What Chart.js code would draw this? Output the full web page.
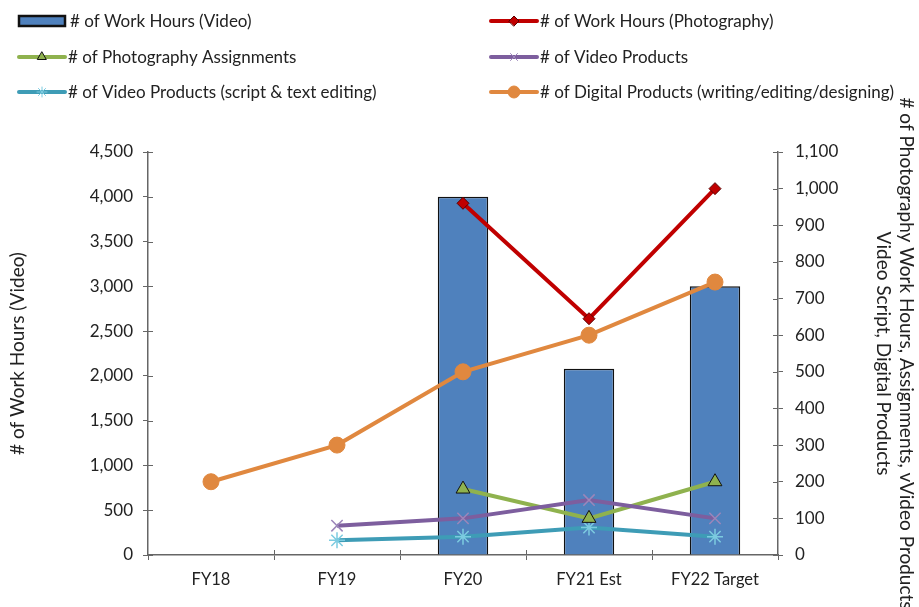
<!DOCTYPE html>
<html>
<head>
<meta charset="utf-8">
<script src="https://cdn.jsdelivr.net/npm/chart.js@4/dist/chart.umd.min.js"></script>
<style>
html,body{margin:0;padding:0;background:#fff;}
#wrap{width:919px;height:607px;position:relative;}
</style>
</head>
<body>
<div id="wrap"><canvas id="c" width="919" height="607"></canvas></div>
<script>
const categories = ['FY18', 'FY19', 'FY20', 'FY21 Est', 'FY22 Target'];
const videoHours = [null, null, 4000, 2080, 3000];
const photoHours = [null, null, 960, 645, 1000];
const photoAssignments = [null, null, 180, 100, 200];
const videoProducts = [null, 80, 100, 150, 100];
const videoScript = [null, 40, 50, 75, 50];
const digitalProducts = [200, 300, 500, 600, 745];
const leftAxis = {min: 0, max: 4500, step: 500};
const rightAxis = {min: 0, max: 1100, step: 100};
const leftTitle = '# of Work Hours (Video)';
const rightTitle = ['# of Photography Work Hours, Assignments, vVideo Products', 'Video Script, Digital Products'];

const FONT = 'Lato, "Open Sans", sans-serif';
const TXT = '#222';
const AX = '#666';

const seriesStyle = [
  {label: '# of Work Hours (Video)', type: 'bar'},
  {label: '# of Work Hours (Photography)', color: '#C00000', ps: 'rectRot', pr: 6, pf: '#C00000', pb: '#5a0000'},
  {label: '# of Photography Assignments', color: '#8FB24E', ps: 'triangle', pr: 8, pf: '#8FB24E', pb: '#111'},
  {label: '# of Video Products', color: '#7D5E9E', ps: 'crossRot', pr: 8, pf: '#9C86BA', pb: '#9C86BA'},
  {label: '# of Video Products (script & text editing)', color: '#3E9CB6', ps: 'star', pr: 8, pf: '#7CCBE0', pb: '#7CCBE0'},
  {label: '# of Digital Products (writing/editing/designing)', color: '#E0883F', ps: 'circle', pr: 8, pf: '#E0883F', pb: '#E0883F'}
];

function lineDs(i, data, order) {
  const s = seriesStyle[i];
  return {
    type: 'line', label: s.label, data: data, yAxisID: 'y1', order: order,
    borderColor: s.color, borderWidth: 4, backgroundColor: s.pf,
    pointStyle: s.ps, pointRadius: s.pr, pointHoverRadius: s.pr,
    pointBackgroundColor: s.pf, pointBorderColor: s.pb, pointBorderWidth: (s.ps === 'crossRot' || s.ps === 'star') ? 1.5 : 1,
    tension: 0, spanGaps: false
  };
}

const legendPlugin = {
  id: 'customLegend',
  afterDraw(chart) {
    const ctx = chart.ctx;
    const pos = [
      [18, 21], [490, 21],
      [18, 57], [490, 57],
      [18, 92], [490, 92]
    ];
    ctx.save();
    ctx.font = '17px ' + FONT;
    ctx.textBaseline = 'middle';
    ctx.textAlign = 'left';
    seriesStyle.forEach((s, i) => {
      const [x, y] = pos[i];
      if (s.type === 'bar') {
        ctx.fillStyle = '#4F81BD';
        ctx.strokeStyle = '#111';
        ctx.lineWidth = 2.5;
        ctx.fillRect(x + 1, y - 5, 46, 10);
        ctx.strokeRect(x + 1, y - 5, 46, 10);
        ctx.fillStyle = TXT;
        ctx.fillText(s.label, x + 52, y + 1);
      } else {
        ctx.strokeStyle = s.color;
        ctx.lineWidth = 4;
        ctx.lineCap = 'round';
        ctx.beginPath();
        ctx.moveTo(x + 1, y); ctx.lineTo(x + 47, y); ctx.stroke();
        ctx.fillStyle = s.pf;
        ctx.strokeStyle = s.pb;
        ctx.lineWidth = 1;
        Chart.helpers.drawPoint(ctx, {pointStyle: s.ps, radius: s.ps === 'circle' ? 6 : 5, rotation: 0, borderWidth: 1}, x + 24, y);
        ctx.fillStyle = TXT;
        ctx.fillText(s.label, x + 50, y + 1);
      }
    });
    // right title (two lines, centred on plot middle)
    const area = chart.chartArea;
    const cy = (area.top + area.bottom) / 2;
    ctx.font = '19px ' + FONT;
    ctx.fillStyle = TXT;
    ctx.translate(906, cy);
    ctx.rotate(Math.PI / 2);
    ctx.textAlign = 'center';
    ctx.textBaseline = 'middle';
    ctx.fillText(rightTitle[0], 0, 0);
    ctx.fillText(rightTitle[1], 0, 23);
    ctx.restore();
  }
};

const innerTicks = {
  id: 'innerTicks',
  afterDraw(chart) {
    const ctx = chart.ctx;
    const y = chart.scales.y, y1 = chart.scales.y1, x = chart.scales.x;
    ctx.save();
    ctx.strokeStyle = AX;
    ctx.lineWidth = 1;
    ctx.beginPath();
    y.ticks.forEach((t, i) => { const p = Math.round(y.getPixelForTick(i)) + 0.5; ctx.moveTo(y.right, p); ctx.lineTo(y.right + 5, p); });
    y1.ticks.forEach((t, i) => { const p = Math.round(y1.getPixelForTick(i)) + 0.5; ctx.moveTo(y1.left - 5, p); ctx.lineTo(y1.left, p); });
    const n = categories.length;
    for (let i = 1; i < n; i++) {
      const p = Math.round((x.getPixelForValue(i - 1) + x.getPixelForValue(i)) / 2) + 0.5;
      ctx.moveTo(p, x.top - 5); ctx.lineTo(p, x.top);
    }
    ctx.stroke();
    ctx.restore();
  }
};

new Chart(document.getElementById('c'), {
  data: {
    labels: categories,
    datasets: [
      lineDs(1, photoHours, 1),
      lineDs(5, digitalProducts, 2),
      lineDs(3, videoProducts, 3),
      lineDs(2, photoAssignments, 4),
      lineDs(4, videoScript, 5),
      {
        type: 'bar', label: seriesStyle[0].label, data: videoHours, yAxisID: 'y', order: 10,
        backgroundColor: '#4F81BD', borderColor: '#111', borderWidth: 1.5,
        categoryPercentage: 0.8, barPercentage: 0.5
      }
    ]
  },
  plugins: [legendPlugin, innerTicks],
  options: {
    responsive: false,
    animation: false,
    devicePixelRatio: 1,
    layout: {padding: {top: 152, left: 0, right: 0, bottom: 0}},
    plugins: {legend: {display: false}, tooltip: {enabled: false}, title: {display: false}},
    scales: {
      x: {
        offset: true,
        grid: {display: true, drawOnChartArea: false, offset: true, tickLength: 5, color: AX},
        border: {display: true, color: AX, width: 1.5},
        ticks: {color: TXT, font: {family: FONT, size: 16.5}, padding: 10, maxRotation: 0},
        afterFit(s) { s.height = 52; }
      },
      y: {
        position: 'left', min: leftAxis.min, max: leftAxis.max,
        grid: {display: true, drawOnChartArea: false, tickLength: 5, color: AX},
        border: {display: true, color: AX, width: 1.5},
        ticks: {stepSize: leftAxis.step, color: TXT, font: {family: FONT, size: 17}, padding: 10,
          callback: v => v.toLocaleString('en-US')},
        title: {display: true, text: leftTitle, color: TXT, font: {family: FONT, size: 19}, padding: {top: 6, bottom: 0}},
        afterFit(s) { s.width = 148; }
      },
      y1: {
        position: 'right', min: rightAxis.min, max: rightAxis.max,
        grid: {display: true, drawOnChartArea: false, tickLength: 5, color: AX},
        border: {display: true, color: AX, width: 1.5},
        ticks: {stepSize: rightAxis.step, color: TXT, font: {family: FONT, size: 17}, padding: 12,
          callback: v => v.toLocaleString('en-US')},
        afterFit(s) { s.width = 141; }
      }
    }
  }
});
</script>
</body>
</html>
